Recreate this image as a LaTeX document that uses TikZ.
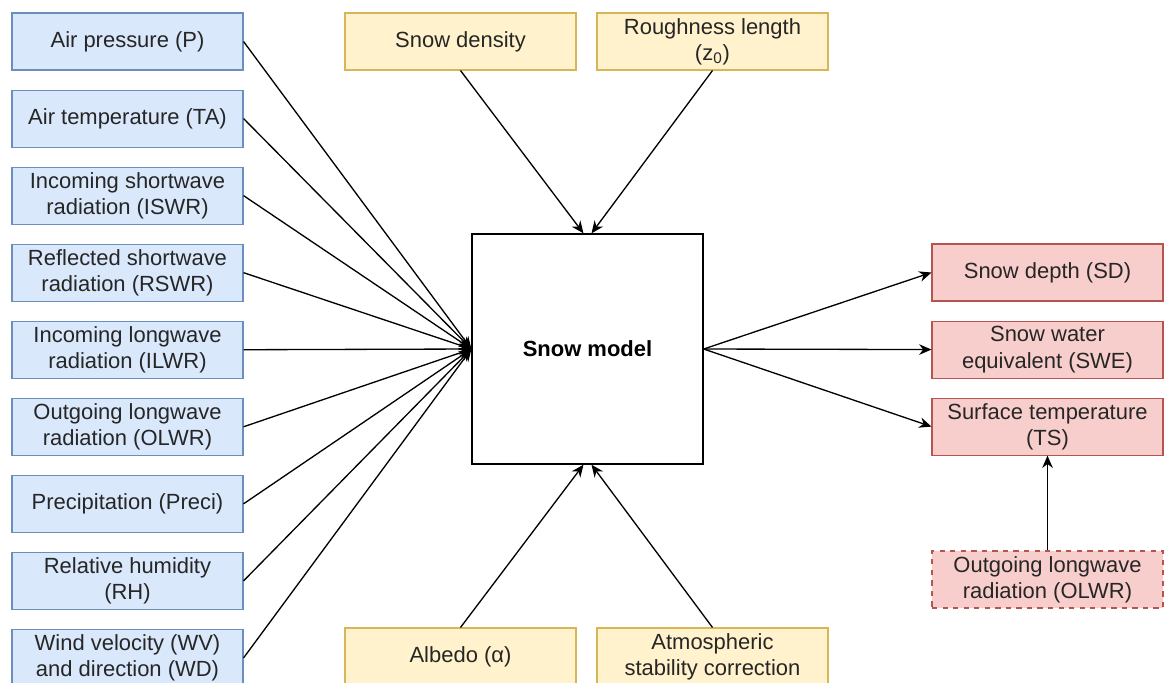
\documentclass[tikz,border=0pt]{standalone}
\usepackage{fontspec}
\setmainfont{Liberation Sans}
\usetikzlibrary{positioning,arrows.meta}

\definecolor{infill}{HTML}{DAE8FC}
\definecolor{indraw}{HTML}{6C8EBF}
\definecolor{parfill}{HTML}{FFF2CC}
\definecolor{pardraw}{HTML}{D6B656}
\definecolor{outfill}{HTML}{F8CECC}
\definecolor{outdraw}{HTML}{B85450}

\begin{document}
\begin{tikzpicture}[%
    ->,
    >={Stealth[length=7pt,width=6pt]},
    line width=0.75pt,
    node distance=0.38cm,
    font=\fontsize{12.5}{15}\selectfont,
    box/.style={%
      rectangle,
      line width=0.6pt,
      inner ysep=1pt,
      minimum width=4.62cm,
      minimum height=1.14cm,
      align=center,
      text=black!85
    },
    forcing/.style={box, draw=indraw, fill=infill},
    param/.style={box, draw=pardraw, fill=parfill},
    output/.style={box, draw=outdraw, fill=outfill},
    model/.style={%
      rectangle,
      draw,
      line width=0.75pt,
      minimum width=4.62cm,
      minimum height=4.6cm,
      font=\fontsize{12.5}{15}\selectfont\bfseries
    }
  ]
    \clip (0,0) rectangle (23.28,-13.64);

    \node[model] (snow) at (11.75,-6.98) {Snow model};

    % forcing data
    \node[forcing] (p)    at (2.55,-0.83) {Air pressure (P)};
    \node[forcing] (ta)   [below=of p]    {Air temperature (TA)};
    \node[forcing] (iswr) [below=of ta]   {Incoming shortwave\\radiation (ISWR)};
    \node[forcing] (rswr) [below=of iswr] {Reflected shortwave\\radiation (RSWR)};
    \node[forcing] (ilwr) [below=of rswr] {Incoming longwave\\radiation (ILWR)};
    \node[forcing] (olwr) [below=of ilwr] {Outgoing longwave\\radiation (OLWR)};
    \node[forcing] (prec) [below=of olwr] {Precipitation (Preci)};
    \node[forcing] (rh)   [below=of prec] {Relative humidity\\(RH)};
    \node[forcing] (wind) [below=of rh]   {Wind velocity (WV)\\and direction (WD)};

    % parameters
    \node[param] (dens)  at (9.21,-0.83)   {Snow density};
    \node[param] (rough) at (14.25,-0.83)  {Roughness length\\(z\textsubscript{0})};
    \node[param] (alb)   at (9.21,-13.13)  {Albedo (α)};
    \node[param] (stab)  at (14.25,-13.13) {Atmospheric\\stability correction};

    % outputs
    \node[output] (sd)  at (20.95,-5.45) {Snow depth (SD)};
    \node[output] (swe) [below=of sd]    {Snow water\\equivalent (SWE)};
    \node[output] (ts)  [below=of swe]   {Surface temperature\\(TS)};
    \node[output, dashed] (olwrout) at (20.95,-11.59) {Outgoing longwave\\radiation (OLWR)};

    \foreach \n in {p,ta,iswr,rswr,ilwr,olwr,prec,rh,wind}
      \draw (\n.east) -- (snow.west);

    \draw (dens.south)  -- ([xshift=-0.08cm]snow.north);
    \draw (rough.south) -- ([xshift=0.08cm]snow.north);
    \draw (alb.north)   -- ([xshift=-0.08cm]snow.south);
    \draw (stab.north)  -- ([xshift=0.08cm]snow.south);

    \draw (snow.east) -- (sd.west);
    \draw (snow.east) -- (swe.west);
    \draw (snow.east) -- (ts.west);
    \draw (olwrout.north) -- (ts.south);
\end{tikzpicture}
\end{document}
